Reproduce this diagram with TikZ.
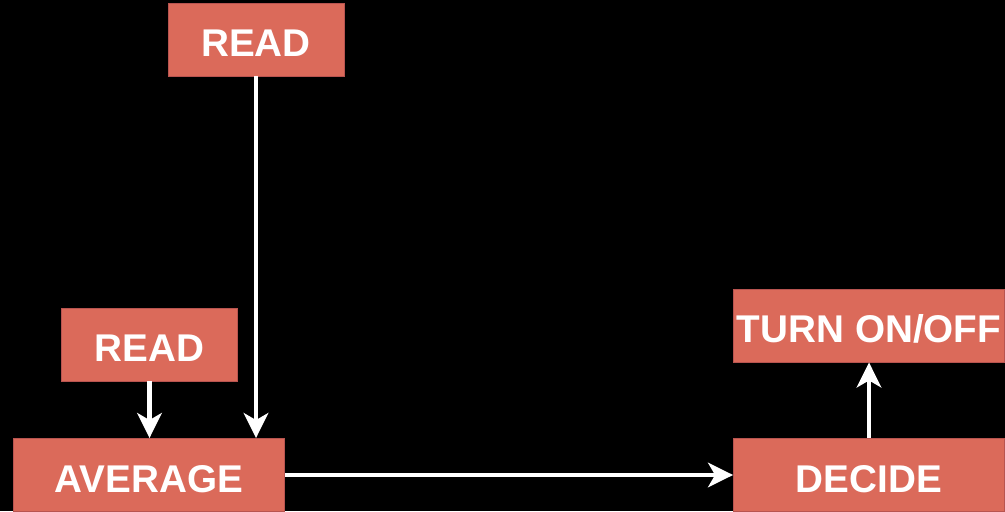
\documentclass[tikz,border=0pt]{standalone}
\usepackage{fontspec}
\setmainfont{Liberation Sans}
\usepackage{xcolor}
\usetikzlibrary{positioning,arrows.meta}
\definecolor{salmon500}{HTML}{DB6A5A}
\definecolor{salmon700}{HTML}{B85450}
\tikzset{
  every node/.style={font=\fontsize{22}{25}\selectfont\bfseries},
  block/.style={
    rectangle, draw=salmon700, fill=salmon500, line width=0.5pt,
    text=white, inner sep=0pt,
    text height=0.68cm, text depth=0cm,
    minimum width=3.52cm, minimum height=1.46cm,
    align=center
  },
  wide/.style={block, minimum width=5.42cm},
  flow/.style={
    -{Stealth[length=5mm,width=4.9mm,inset=1.4mm]},
    line width=2.3pt, draw=white
  },
}
\begin{document}
\begin{tikzpicture}
  \fill[black] (0,0) rectangle (20.1,10.22);
  \useasboundingbox (0,0) rectangle (20.1,10.22);
  % sensors feeding the averaging step
  \node[block] (readtop) at (5.12,9.43) {READ};
  \node[block] (readleft) at (2.99,3.33) {READ};
  \node[wide] (average) at (2.98,0.72) {AVERAGE};
  % control side
  \node[wide] (decide) at (17.38,0.72) {DECIDE};
  \node[wide] (switch) at (17.38,3.71) {TURN ON/OFF};
  \draw[flow] (readtop.south) -- (readtop.south |- average.north);
  \draw[flow] (readleft.south) -- (readleft.south |- average.north);
  \draw[flow] (average.east) -- (decide.west);
  \draw[flow] (decide.north) -- (switch.south);
\end{tikzpicture}
\end{document}
